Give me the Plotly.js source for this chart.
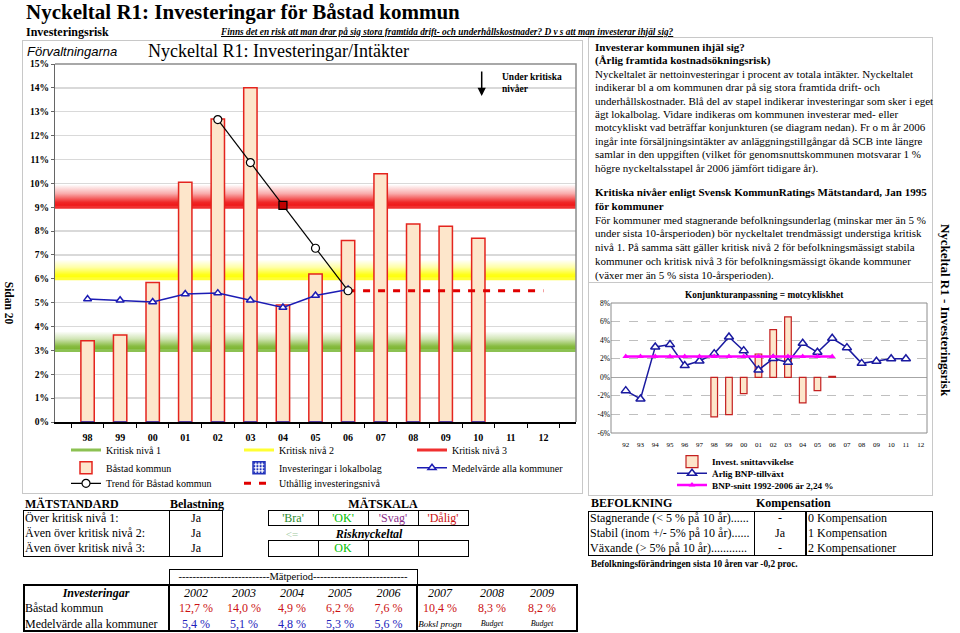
<!DOCTYPE html>
<html lang="sv"><head><meta charset="utf-8"><title>Nyckeltal R1</title>
<script src="https://cdn.plot.ly/plotly-3.0.1.min.js"></script>
<style>
html,body{margin:0;padding:0;background:#fff;}
body{width:960px;height:633px;position:relative;overflow:hidden;font-family:"Liberation Serif","Times New Roman",serif;color:#000;}
.a{position:absolute;white-space:nowrap;}
.b{position:absolute;box-sizing:border-box;}
.c{text-align:center;}
.bd{font-weight:bold;}
.k{background:#000;position:absolute;}
#main{position:absolute;left:0;top:0;width:585px;height:500px;}
#small{position:absolute;left:588px;top:283px;width:344px;height:212px;}
</style></head><body>

<!-- frames -->
<div class="b" style="left:22px;top:40px;width:561px;height:454px;border:1.5px solid #C8C8C8;"></div>
<div class="b" style="left:588px;top:37px;width:345px;height:459px;border:1px solid #C8C8C8;"></div>
<div class="b" style="left:588px;top:282px;width:345px;height:1px;background:#C8C8C8;"></div>

<!-- header texts -->
<div class="a bd" style="left:26px;top:0px;font-size:21px;line-height:25px;">Nyckeltal R1: Investeringar för Båstad kommun</div>
<div class="a bd" style="left:26px;top:25px;font-size:12px;line-height:14px;">Investeringsrisk</div>
<div class="a bd" style="left:221px;top:26.5px;font-size:9.3px;line-height:11px;font-style:italic;text-decoration:underline;">Finns det en risk att man drar på sig stora framtida drift- och underhållskostnader? D v s att man investerar ihjäl sig?</div>
<div class="a" style="left:27px;top:44px;font-family:'Liberation Sans',Arial,sans-serif;font-style:italic;font-size:13px;line-height:15px;">Förvaltningarna</div>

<!-- rotated side texts -->
<div class="a bd" style="left:8px;top:303px;font-size:11.5px;line-height:13px;transform:translate(-50%,-50%) rotate(90deg);">Sidan 20</div>
<div class="a bd" style="left:945px;top:310px;font-size:13px;line-height:15px;transform:translate(-50%,-50%) rotate(90deg);">Nyckeltal R1 - Investeringsrisk</div>

<!-- right text box 1 -->
<div class="a" style="left:595px;top:41px;font-size:11px;line-height:13.4px;"><b>Investerar kommunen ihjäl sig?</b><br><b>(Årlig framtida kostnadsökningsrisk)</b><br>Nyckeltalet är nettoinvesteringar i procent av totala intäkter. Nyckeltalet<br>indikerar bl a om kommunen drar på sig stora framtida drift- och<br>underhållskostnader. Blå del av stapel indikerar investeringar som sker i eget<br>ägt lokalbolag. Vidare indikeras om kommunen investerar med- eller<br>motcykliskt vad beträffar konjunkturen (se diagram nedan). Fr o m år 2006<br>ingår inte försäljningsintäkter av anläggningstillgångar då SCB inte längre<br>samlar in den uppgiften (vilket för genomsnuttskommunen motsvarar 1 %<br>högre nyckeltalsstapel år 2006 jämfört tidigare år).</div>

<!-- right text box 2 -->
<div class="a" style="left:595px;top:186px;font-size:11px;line-height:13.8px;"><b>Kritiska nivåer enligt Svensk KommunRatings Mätstandard, Jan 1995</b><br><b>för kommuner</b><br>För kommuner med stagnerande befolkningsunderlag (minskar mer än 5 %<br>under sista 10-årsperioden) bör nyckeltalet trendmässigt understiga kritisk<br>nivå 1. På samma sätt gäller kritisk nivå 2 för befolkningsmässigt stabila<br>kommuner och kritisk nivå 3 för befolkningsmässigt ökande kommuner<br>(växer mer än 5 % sista 10-årsperioden).</div>

<!-- bottom-left: Mätstandard -->
<div class="a bd" style="left:25px;top:497px;font-size:12px;line-height:14px;">MÄTSTANDARD</div>
<div class="a bd c" style="left:166px;top:497px;width:62px;font-size:12px;line-height:14px;">Belastning</div>
<div class="a bd c" style="left:323px;top:497px;width:120px;font-size:12px;line-height:14px;">MÄTSKALA</div>
<div class="b" style="left:23px;top:510px;width:199.5px;height:46.5px;border:1.5px solid #000;"></div>
<div class="k" style="left:168.5px;top:510px;width:1.5px;height:46.5px;"></div>
<div class="a" style="left:25px;top:510.7px;font-size:12px;line-height:14px;">Över kritisk nivå 1:</div>
<div class="a" style="left:25px;top:526px;font-size:12px;line-height:14px;">Även över kritisk nivå 2:</div>
<div class="a" style="left:25px;top:541.3px;font-size:12px;line-height:14px;">Även över kritisk nivå 3:</div>
<div class="a c" style="left:170px;top:510.7px;width:52px;font-size:12px;line-height:14px;">Ja</div>
<div class="a c" style="left:170px;top:526px;width:52px;font-size:12px;line-height:14px;">Ja</div>
<div class="a c" style="left:170px;top:541.3px;width:52px;font-size:12px;line-height:14px;">Ja</div>

<!-- scale -->
<div class="b" style="left:268px;top:510px;width:201px;height:16px;border:1.5px solid #000;"></div>
<div class="k" style="left:317.5px;top:510px;width:1.5px;height:16px;"></div>
<div class="k" style="left:367.5px;top:510px;width:1.5px;height:16px;"></div>
<div class="k" style="left:417.5px;top:510px;width:1.5px;height:16px;"></div>
<div class="a c" style="left:268px;top:511px;width:50px;font-size:12px;line-height:14px;color:#2E8B2E;">'Bra'</div>
<div class="a c" style="left:318px;top:511px;width:50px;font-size:12px;line-height:14px;color:#00C000;">'OK'</div>
<div class="a c" style="left:368px;top:511px;width:50px;font-size:12px;line-height:14px;color:#8B2E8B;">'Svag'</div>
<div class="a c" style="left:418px;top:511px;width:50px;font-size:12px;line-height:14px;color:#CC1111;">'Dålig'</div>
<div class="a c" style="left:272px;top:527px;width:40px;font-size:11px;line-height:14px;color:#9CC89C;">&lt;=</div>
<div class="a c" style="left:319px;top:527px;width:100px;font-size:12px;line-height:14px;font-weight:bold;font-style:italic;">Risknyckeltal</div>
<div class="b" style="left:268px;top:540px;width:201px;height:16.5px;border:1.5px solid #000;"></div>
<div class="k" style="left:317.5px;top:540px;width:1.5px;height:16.5px;"></div>
<div class="k" style="left:367.5px;top:540px;width:1.5px;height:16.5px;"></div>
<div class="k" style="left:417.5px;top:540px;width:1.5px;height:16.5px;"></div>
<div class="a c" style="left:318px;top:541.3px;width:50px;font-size:12px;line-height:14px;color:#00C000;">OK</div>

<!-- period table -->
<div class="b" style="left:168.5px;top:569px;width:249px;height:16.5px;border:1.5px solid #000;"></div>
<div class="a c" style="left:170px;top:570px;width:246px;font-size:10.5px;line-height:14px;">--------------------------Mätperiod---------------------------</div>
<div class="b" style="left:23px;top:584px;width:555px;height:48px;border:2px solid #000;"></div>
<div class="k" style="left:168px;top:584px;width:2px;height:48px;"></div>
<div class="k" style="left:416px;top:584px;width:2px;height:48px;"></div>
<div id="tbl"></div>

<!-- bottom-right: Befolkning -->
<div class="a bd" style="left:591px;top:496px;font-size:12px;line-height:14px;">BEFOLKNING</div>
<div class="a bd" style="left:756px;top:496px;font-size:12px;line-height:14px;">Kompensation</div>
<div class="b" style="left:588px;top:510.5px;width:345px;height:45.5px;border:1.5px solid #000;"></div>
<div class="k" style="left:753.5px;top:510.5px;width:1.5px;height:45.5px;"></div>
<div class="k" style="left:805px;top:510.5px;width:1.5px;height:45.5px;"></div>
<div class="a" style="left:590px;top:511.2px;font-size:12px;line-height:14px;">Stagnerande (&lt; 5 % på 10 år)......</div>
<div class="a" style="left:590px;top:526.2px;font-size:12px;line-height:14px;">Stabil (inom +/- 5% på 10 år)......</div>
<div class="a" style="left:590px;top:541.2px;font-size:12px;line-height:14px;">Växande (&gt; 5% på 10 år)............</div>
<div class="a c" style="left:758px;top:511.2px;width:44px;font-size:12px;line-height:14px;">-</div>
<div class="a c" style="left:758px;top:526.2px;width:44px;font-size:12px;line-height:14px;">Ja</div>
<div class="a c" style="left:758px;top:541.2px;width:44px;font-size:12px;line-height:14px;">-</div>
<div class="a" style="left:808px;top:511.2px;font-size:12px;line-height:14px;">0 Kompensation</div>
<div class="a" style="left:808px;top:526.2px;font-size:12px;line-height:14px;">1 Kompensation</div>
<div class="a" style="left:808px;top:541.2px;font-size:12px;line-height:14px;">2 Kompensationer</div>
<div class="a bd" style="left:591px;top:558.5px;font-size:9.3px;line-height:11px;">Befolkningsförändringen sista 10 åren var -0,2 proc.</div>

<div id="main"></div>
<div id="small"></div>

<script>
// ---------------- data: main chart ----------------
const years = ['98','99','00','01','02','03','04','05','06','07','08','09','10','11','12'];
const bastad = [3.4, 3.65, 5.85, 10.05, 12.7, 14.0, 4.9, 6.2, 7.6, 10.4, 8.3, 8.2, 7.7];
const medel = [5.15, 5.1, 5.03, 5.36, 5.4, 5.1, 4.8, 5.3, 5.55];
const trendYears = ['02','03','04','05','06'];
const trend = [12.67, 10.87, 9.08, 7.28, 5.5];
const lokalbolag = [0, 0, 0, 0, 0, 0, 0, 0, 0, 0, 0, 0, 0];
const kritiskNames = ['Kritisk nivå 1','Kritisk nivå 2','Kritisk nivå 3'];
const kritiskLevels = [3, 6, 9];
const uthalligYears = ['06','07','08','09','10','11','12'];
const uthalligLevel = 5.5;
const yTicks = [0,1,2,3,4,5,6,7,8,9,10,11,12,13,14,15];

// ---------------- data: small chart ----------------
const years2 = ['92','93','94','95','96','97','98','99','00','01','02','03','04','05','06','07','08','09','10','11','12'];
const bnp = [-1.44, -2.33, 3.27, 3.52, 1.26, 1.76, 2.55, 4.34, 2.87, 0.79, 2.01, 1.61, 3.66, 2.69, 4.2, 3.19, 1.5, 1.72, 2.0, 2.0];
const bnpAvgYears = ['92','93','94','95','96','97','98','99','00','01','02','03','04','05','06'];
const bnpAvg = 2.24;
const devYears = ['98','99','00','01','02','03','04','05','06'];
const investDev = [-4.27, -4.02, -1.76, 2.51, 5.13, 6.5, -2.76, -1.44, 0.1];
const y2Ticks = [-6,-4,-2,0,2,4,6,8];

// ---------------- data: table ----------------
const tblYears = ['2002','2003','2004','2005','2006','2007','2008','2009'];
const tblBastad = ['12,7 %','14,0 %','4,9 %','6,2 %','7,6 %','10,4 %','8,3 %','8,2 %'];
const tblMedel = ['5,4 %','5,1 %','4,8 %','5,3 %','5,6 %','Boksl progn','Budget','Budget'];

// ---------- table rendering ----------
(function(){
  const centers = [196,244,292,340,388.5,440,492,542];
  const tbl = document.getElementById('tbl');
  function add(txt, left, top, w, css){
    const d = document.createElement('div');
    d.className = 'a' + (w ? ' c' : '');
    d.style.cssText = 'left:'+left+'px;top:'+top+'px;' + (w ? 'width:'+w+'px;' : '') + 'font-size:12px;line-height:14px;' + (css||'');
    d.textContent = txt;
    tbl.appendChild(d);
  }
  add('Investeringar', 25, 585.5, 142, 'font-weight:bold;font-style:italic;');
  add('Båstad kommun', 25, 601, 0, '');
  add('Medelvärde alla kommuner', 25, 616.5, 0, '');
  tblYears.forEach((y,i)=>add(y, centers[i]-24, 585.5, 48, 'font-style:italic;'));
  tblBastad.forEach((v,i)=>add(v, centers[i]-24, 601, 48, 'color:#CC1111;'));
  tblMedel.forEach((v,i)=>{
    if (i < 5) add(v, centers[i]-24, 616.5, 48, 'color:#2222BB;');
    else add(v, centers[i]-24, 616.5, 48, 'font-style:italic;font-size:' + (i===5 ? '9px' : '8px') + ';');
  });
})();

// ---------- main chart ----------
const X_MIN = -1, X_MAX = 15;
const idx = y => years.indexOf(y);
const bandStyle = [
  {rgb:'122,180,44', line:'#8CC152', h:0.8},
  {rgb:'255,255,0',  line:'#FFFF33', h:0.8},
  {rgb:'238,16,16',  line:'#F03030', h:0.95}
];
const TREND_MARK = '04';
const traces = [];
kritiskLevels.forEach((L,i)=>{
  const s = bandStyle[i];
  traces.push({type:'scatter', mode:'lines', x:[X_MIN,X_MAX,X_MAX,X_MIN,X_MIN], y:[L,L,L+s.h,L+s.h,L],
    fill:'toself', fillcolor:'rgba('+s.rgb+',0.5)',
    fillgradient:{type:'vertical', colorscale:[[0,'rgba('+s.rgb+',1)'],[0.22,'rgba('+s.rgb+',0.9)'],[0.6,'rgba('+s.rgb+',0.35)'],[1,'rgba('+s.rgb+',0)']]},
    line:{width:0}, hoverinfo:'skip', showlegend:false, xaxis:'x', yaxis:'y'});
});
kritiskLevels.forEach((L,i)=>{
  traces.push({type:'scatter', mode:'lines', x:[X_MIN,X_MAX], y:[L,L], name:kritiskNames[i],
    line:{color:bandStyle[i].line, width:3}, legend:'legend', legendrank:i+1, hoverinfo:'skip', xaxis:'x', yaxis:'y'});
});
traces.push({type:'bar', x:bastad.map((_,i)=>i), y:bastad, width:0.41, name:'Båstad kommun',
  marker:{color:'#FDE6CB', line:{color:'#E4241E', width:1.5}}, legend:'legend2', legendrank:1, xaxis:'x2', yaxis:'y2'});
traces.push({type:'bar', x:lokalbolag.map((_,i)=>i), y:lokalbolag, width:0.41, name:'Investeringar i lokalbolag',
  marker:{color:'#FFFFFF', pattern:{shape:'.', fgcolor:'#2233BB', bgcolor:'#FFFFFF', size:4, solidity:0.4}, line:{color:'#2233BB', width:1.5}},
  legend:'legend2', legendrank:2, xaxis:'x2', yaxis:'y2'});
traces.push({type:'scatter', mode:'lines+markers', x:medel.map((_,i)=>i), y:medel, name:'Medelvärde alla kommuner',
  line:{color:'#1C1CB4', width:1.5}, marker:{symbol:'triangle-up', size:7, color:'#FFFFFF', line:{color:'#1C1CB4', width:1.5}},
  legend:'legend2', legendrank:3, xaxis:'x2', yaxis:'y2'});
traces.push({type:'scatter', mode:'lines', x:uthalligYears.map(idx), y:uthalligYears.map(()=>uthalligLevel), name:'Uthållig investeringsnivå',
  line:{color:'#E00000', width:3, dash:'7px,8px'}, legend:'legend3', legendrank:2, xaxis:'x2', yaxis:'y2'});
traces.push({type:'scatter', mode:'lines+markers', x:trendYears.map(idx), y:trend, name:'Trend för Båstad kommun',
  line:{color:'#000000', width:1.2},
  marker:{symbol:trendYears.map(y=>y===TREND_MARK?'square':'circle'), size:8,
    color:trendYears.map(y=>y===TREND_MARK?'#C00000':'#FFFFFF'), line:{color:'#000000', width:1.2}},
  legend:'legend3', legendrank:1, xaxis:'x2', yaxis:'y2'});

const PL = 55, PT = 64, PW = 521, PH = 358;
const px = v => (v - PL) / PW;
const py = v => (PT + PH - v) / PH;
const legBase = {orientation:'h', xanchor:'left', yanchor:'middle', entrywidth:128, entrywidthmode:'pixels',
  font:{size:10, family:'Liberation Serif', color:'#000'}, bgcolor:'rgba(0,0,0,0)', traceorder:'normal', itemclick:false, itemdoubleclick:false};

const layout = {
  width:585, height:500, margin:{l:PL, r:585-PL-PW, t:PT, b:500-PT-PH, autoexpand:false},
  paper_bgcolor:'rgba(0,0,0,0)', plot_bgcolor:'#FFFFFF', barmode:'overlay',
  font:{family:'Liberation Serif', color:'#000'}, showlegend:true,
  title:{text:'Nyckeltal R1: Investeringar/Intäkter', x:148/585, xref:'container', xanchor:'left', y:1-51/500, yref:'container', yanchor:'middle', font:{size:18, family:'Liberation Serif', color:'#000'}},
  xaxis:{range:[X_MIN,X_MAX], tickmode:'array', tickvals:years.map((_,i)=>i), ticktext:years,
    tickfont:{size:10, weight:'bold'}, ticks:'outside', ticklen:5, tickcolor:'rgba(0,0,0,0)',
    showgrid:false, zeroline:false, showline:true, linecolor:'#000', linewidth:1.5,
    minor:{tickmode:'linear', tick0:-0.5, dtick:1, ticks:'outside', ticklen:4, tickcolor:'#000', tickwidth:1, showgrid:false}},
  yaxis:{range:[0,15], tickmode:'array', tickvals:yTicks, ticktext:yTicks.map(v=>v+'%'),
    tickfont:{size:9.5, weight:'bold'}, ticks:'outside', ticklen:3, tickcolor:'#666',
    showgrid:true, gridcolor:'#D9D9D9', gridwidth:1.5, zeroline:false, showline:true, linecolor:'#666', linewidth:1},
  xaxis2:{overlaying:'x', anchor:'y2', range:[X_MIN,X_MAX], visible:false},
  yaxis2:{overlaying:'y', anchor:'x2', range:[0,15], visible:false},
  legend:Object.assign({}, legBase, {x:px(66), y:py(450)}),
  legend2:Object.assign({}, legBase, {x:px(66), y:py(467.7)}),
  legend3:Object.assign({}, legBase, {x:px(66), y:py(483.3)}),
  shapes:[{type:'path', xref:'paper', yref:'paper', path:'M0,1 L1,1 L1,0', line:{color:'#8C8C8C', width:1.5}, layer:'above'}],
  annotations:[
    {xref:'paper', yref:'paper', x:px(500), y:py(83), xanchor:'left', yanchor:'middle', align:'left', showarrow:false,
     text:'Under kritiska<br>nivåer', font:{size:9.5, weight:'bold', color:'#000'}},
    {xref:'paper', yref:'paper', x:px(481.7), y:py(96), ax:0, ay:-26, showarrow:true, arrowhead:2, arrowsize:1.1,
     arrowwidth:1.5, arrowcolor:'#000', text:'', standoff:0}
  ]
};
Plotly.newPlot('main', traces, layout, {displayModeBar:false, staticPlot:true});

// ---------- small chart ----------
const idx2 = y => years2.indexOf(y);
const SL = 23, ST = 20, SW = 316, SH = 130;
const spx = v => (v - 611) / SW;
const spy = v => (433 - v) / SH;
const strace = [
  {type:'bar', x:devYears.map(idx2), y:investDev, width:0.45, name:'Invest. snittavvikelse',
   marker:{color:'#FDE6CB', line:{color:'#C42020', width:1.2}}, legend:'legend'},
  {type:'scatter', mode:'lines+markers', x:bnp.map((_,i)=>i), y:bnp, name:'Årlig BNP-tillväxt',
   line:{color:'#1A1AA0', width:1.5}, marker:{symbol:'triangle-up', size:8, color:'#FFFFFF', line:{color:'#1A1AA0', width:1.5}}, legend:'legend2'},
  {type:'scatter', mode:'lines+markers', x:bnpAvgYears.map(idx2), y:bnpAvgYears.map(()=>bnpAvg), name:'BNP-snitt 1992-2006 är 2,24 %',
   line:{color:'#FF00FF', width:2.5}, marker:{symbol:'triangle-up', size:6, color:'#FF00FF'}, legend:'legend3'}
];
const sLeg = {orientation:'v', xanchor:'left', yanchor:'middle', font:{size:9.2, family:'Liberation Serif', color:'#000', weight:'bold'},
  bgcolor:'rgba(0,0,0,0)', itemclick:false, itemdoubleclick:false};
const slayout = {
  width:344, height:212, margin:{l:SL, r:344-SL-SW, t:ST, b:212-ST-SH, autoexpand:false},
  paper_bgcolor:'rgba(0,0,0,0)', plot_bgcolor:'#FFFFFF', barmode:'overlay', showlegend:true,
  font:{family:'Liberation Serif', color:'#000'},
  xaxis:{range:[-1,20.43], tickmode:'array', tickvals:years2.map((_,i)=>i), ticktext:years2, tickfont:{size:7},
    ticks:'outside', ticklen:5, tickcolor:'rgba(0,0,0,0)', showgrid:false, zeroline:false, showline:false},
  yaxis:{range:[-6,8], tickmode:'array', tickvals:y2Ticks, ticktext:y2Ticks.map(v=>v+'%'), tickfont:{size:7.5},
    ticks:'', showgrid:true, gridcolor:'#BFBFBF', griddash:'dash', gridwidth:1,
    zeroline:true, zerolinecolor:'#A6A6A6', zerolinewidth:1.5, showline:false},
  shapes:[{type:'rect', xref:'paper', yref:'paper', x0:0, x1:1, y0:0, y1:1, line:{color:'#8C8C8C', width:1}, layer:'above'}],
  annotations:[{xref:'paper', yref:'paper', x:spx(764), y:1+(303-295)/SH, xanchor:'center', yanchor:'middle', showarrow:false,
    text:'Konjunkturanpassning = motcykliskhet', font:{size:9.3, weight:'bold', color:'#000'}}],
  legend:Object.assign({}, sLeg, {x:spx(672), y:spy(461.7)}),
  legend2:Object.assign({}, sLeg, {x:spx(672), y:spy(473.3)}),
  legend3:Object.assign({}, sLeg, {x:spx(672), y:spy(485)})
};
Plotly.newPlot('small', strace, slayout, {displayModeBar:false, staticPlot:true});
</script>
</body></html>
